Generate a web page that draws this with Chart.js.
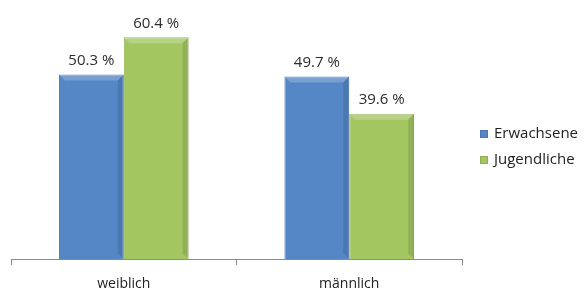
<!DOCTYPE html>
<html lang="de">
<head>
    <meta charset="UTF-8">
    <title>Erwachsene / Jugendliche</title>
    <script src="https://cdn.jsdelivr.net/npm/chart.js"></script>
    <style>
        html, body {
            margin: 0;
            padding: 0;
            background: #ffffff;
        }
        .wrap {
            width: 585px;
            height: 297px;
        }
    </style>
</head>
<body>
    <div class="wrap">
        <canvas id="genderChart" width="585" height="297"></canvas>
    </div>

    <script>
        // data
        var categories = ['weiblich', 'männlich'];
        var seriesNames = ['Erwachsene', 'Jugendliche'];
        var erwachsene = [50.3, 49.7];
        var jugendliche = [60.4, 39.6];

        var blue = '#5586c6';
        var green = '#a3c661';

        // value labels above the bars, e.g. "50.3 %"
        var valueLabels = {
            id: 'valueLabels',
            afterDatasetsDraw: function(chart) {
                var ctx = chart.ctx;
                ctx.save();
                ctx.font = '15px "Open Sans"';
                ctx.fillStyle = '#2b2b2b';
                ctx.textAlign = 'center';
                ctx.textBaseline = 'bottom';
                chart.data.datasets.forEach(function(ds, i) {
                    chart.getDatasetMeta(i).data.forEach(function(bar, j) {
                        ctx.fillText(ds.data[j].toFixed(1) + ' %', bar.x, bar.y - 6);
                    });
                });
                ctx.restore();
            }
        };

        // light bevel on top and right edge of each bar
        var bevel = {
            id: 'bevel',
            afterDatasetsDraw: function(chart) {
                var ctx = chart.ctx;
                ctx.save();
                chart.data.datasets.forEach(function(ds, i) {
                    chart.getDatasetMeta(i).data.forEach(function(bar) {
                        var l = bar.x - bar.width / 2, r = bar.x + bar.width / 2;
                        var t = bar.y, b = bar.base, d = 6;
                        ctx.fillStyle = 'rgba(255,255,255,0.22)';
                        ctx.beginPath();
                        ctx.moveTo(l, t); ctx.lineTo(r, t); ctx.lineTo(r - d, t + d); ctx.lineTo(l + d, t + d);
                        ctx.closePath(); ctx.fill();
                        ctx.fillStyle = 'rgba(0,0,0,0.10)';
                        ctx.beginPath();
                        ctx.moveTo(r, t); ctx.lineTo(r, b); ctx.lineTo(r - d, b - d); ctx.lineTo(r - d, t + d);
                        ctx.closePath(); ctx.fill();
                    });
                });
                ctx.restore();
            }
        };

        // legend on the right, drawn by hand to sit where the original one is
        var sideLegend = {
            id: 'sideLegend',
            afterDraw: function(chart) {
                var ctx = chart.ctx;
                var x = chart.chartArea.right + 18;
                var y0 = 134, step = 26;
                ctx.save();
                ctx.font = '15px "Open Sans"';
                ctx.textBaseline = 'middle';
                chart.data.datasets.forEach(function(ds, i) {
                    var y = y0 + i * step;
                    ctx.fillStyle = ds.backgroundColor;
                    ctx.fillRect(x, y - 4, 8, 8);
                    ctx.strokeStyle = ds.borderColor;
                    ctx.lineWidth = 1;
                    ctx.strokeRect(x + 0.5, y - 3.5, 7, 7);
                    ctx.fillStyle = '#222222';
                    ctx.fillText(ds.label, x + 14, y);
                });
                ctx.restore();
            }
        };

        var ctx = document.getElementById('genderChart').getContext('2d');
        var genderChart = new Chart(ctx, {
            type: 'bar',
            data: {
                labels: categories,
                datasets: [
                    {
                        label: seriesNames[0],
                        data: erwachsene,
                        backgroundColor: blue,
                        borderColor: '#4a77b2',
                        borderWidth: 1
                    },
                    {
                        label: seriesNames[1],
                        data: jugendliche,
                        backgroundColor: green,
                        borderColor: '#8fae52',
                        borderWidth: 1
                    }
                ]
            },
            options: {
                responsive: false,
                animation: false,
                layout: {
                    padding: { left: 11, top: 2, right: 123, bottom: -5 }
                },
                datasets: {
                    bar: {
                        categoryPercentage: 0.575,
                        barPercentage: 1.0
                    }
                },
                scales: {
                    x: {
                        grid: {
                            offset: true,
                            drawOnChartArea: false,
                            drawTicks: true,
                            tickLength: 6,
                            color: '#8c8c8c'
                        },
                        border: {
                            color: '#8c8c8c'
                        },
                        ticks: {
                            color: '#222222',
                            padding: 10,
                            font: { family: '"Open Sans"', size: 14 }
                        }
                    },
                    y: {
                        display: false,
                        min: 0,
                        max: 70
                    }
                },
                plugins: {
                    legend: { display: false },
                    tooltip: { enabled: false }
                }
            },
            plugins: [bevel, valueLabels, sideLegend]
        });
    </script>
</body>
</html>
